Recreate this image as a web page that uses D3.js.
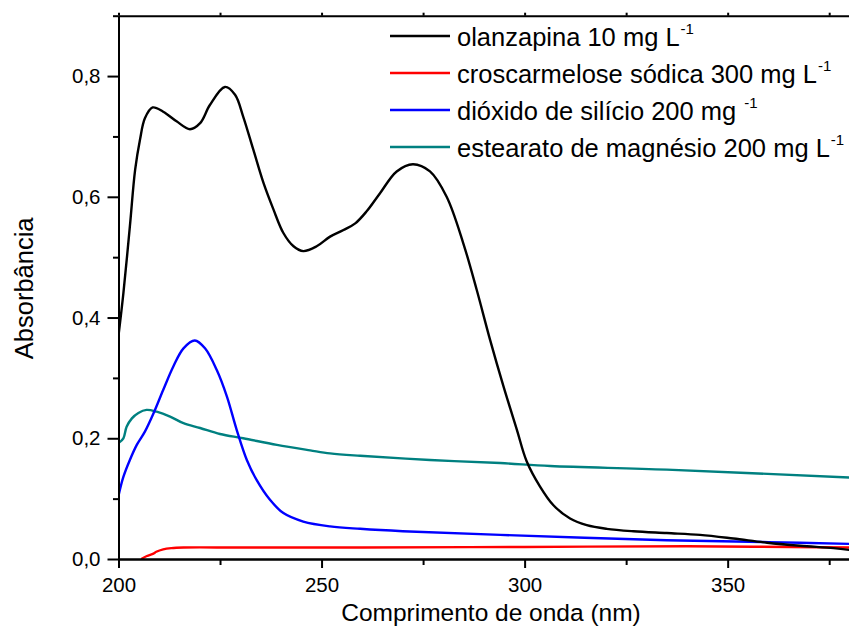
<!DOCTYPE html>
<html>
<head>
<meta charset="utf-8">
<script src="https://cdn.jsdelivr.net/npm/d3@7"></script>
<style>
  html, body { margin: 0; padding: 0; background: #fff; }
  svg { display: block; font-family: "Liberation Sans", Arial, sans-serif; }
</style>
</head>
<body>
<svg id="chart" width="849" height="638"></svg>
<script>
// UV spectra: wavelength (nm) and absorbance for each sample
const olanzapinaWl = [200, 201.2, 202.8, 204.1, 205.3, 206.5, 208.4, 211.0, 214.3, 217.6, 220.1, 222.5, 226.2, 228.7, 230.7, 233.2, 235.7, 238.1, 240.6, 243.1, 245.5, 248.8, 252.1, 255.4, 258.3, 261.1, 264.4, 268.5, 272.5, 276.7, 280.8, 284.9, 288.2, 291.5, 294.8, 298.1, 300.5, 303.8, 307.1, 311.2, 315.3, 320.2, 326.8, 335, 343.2, 351.4, 359.7, 367.9, 376.1, 380];
const olanzapinaAbs = [0.37, 0.44, 0.551, 0.645, 0.695, 0.730, 0.748, 0.741, 0.725, 0.712, 0.722, 0.752, 0.782, 0.769, 0.733, 0.678, 0.623, 0.580, 0.540, 0.518, 0.510, 0.518, 0.534, 0.545, 0.556, 0.576, 0.606, 0.642, 0.654, 0.642, 0.600, 0.523, 0.446, 0.363, 0.286, 0.214, 0.162, 0.120, 0.089, 0.067, 0.056, 0.050, 0.046, 0.043, 0.040, 0.034, 0.027, 0.022, 0.018, 0.015];

const croscarmeloseWl = [205.6, 207, 208.6, 209.3, 211, 213, 216, 230, 260, 300, 340, 380];
const croscarmeloseAbs = [0, 0.005, 0.009, 0.012, 0.016, 0.018, 0.019, 0.019, 0.019, 0.020, 0.021, 0.019];

const dioxidoWl = [200, 201.2, 202.8, 204.5, 206.5, 208.6, 211.0, 213.5, 216.0, 218.8, 221.3, 224.2, 226.7, 229.1, 231.6, 234.0, 237.3, 240.6, 245.5, 252.1, 259.5, 270, 294, 335, 360, 380];
const dioxidoAbs = [0.105, 0.136, 0.164, 0.189, 0.211, 0.241, 0.280, 0.319, 0.349, 0.362, 0.349, 0.313, 0.269, 0.214, 0.164, 0.131, 0.098, 0.076, 0.062, 0.054, 0.050, 0.046, 0.040, 0.031, 0.028, 0.025];

const estearatoWl = [200, 201.2, 202, 203.3, 204.9, 206.9, 209.4, 212.7, 216, 220.1, 225, 230.7, 239, 247.2, 252.1, 259.5, 276.7, 294, 306.3, 335, 380];
const estearatoAbs = [0.192, 0.200, 0.219, 0.233, 0.242, 0.247, 0.244, 0.236, 0.225, 0.217, 0.207, 0.200, 0.189, 0.180, 0.175, 0.171, 0.164, 0.159, 0.154, 0.148, 0.135];

const xMajorTicks = [200, 250, 300, 350];
const xMinorTicks = [225, 275, 325, 375];
const yMajorTicks = [0, 0.2, 0.4, 0.6, 0.8];
const yMinorTicks = [0.1, 0.3, 0.5, 0.7, 0.9];

const seriesNames = ["olanzapina 10 mg L", "croscarmelose sódica 300 mg L", "dióxido de silício 200 mg ", "estearato de magnésio 200 mg L"];
const seriesSup = ["-1", "-1", "-1", "-1"];
const seriesColors = ["#000000", "#ff0000", "#0000ff", "#008080"];

const series = [
  [olanzapinaWl, olanzapinaAbs],
  [croscarmeloseWl, croscarmeloseAbs],
  [dioxidoWl, dioxidoAbs],
  [estearatoWl, estearatoAbs]
].map(([wl, ab], i) => ({
  name: seriesNames[i], sup: seriesSup[i], color: seriesColors[i],
  points: wl.map((w, j) => [w, ab[j]])
}));

const svg = d3.select("#chart");
const plotLeft = 118.5, plotRight = 849.5, plotTop = 15.7, plotBottom = 559;

const x = d3.scaleLinear().domain([200, 380]).range([plotLeft, plotRight]);
const y = d3.scaleLinear().domain([0, 0.9]).range([plotBottom, plotTop]);

const fmt = d => d3.format(".1f")(d).replace(".", ",");

// clip curves to the plotting frame
svg.append("defs").append("clipPath").attr("id", "plotClip")
  .append("rect").attr("x", plotLeft).attr("y", plotTop)
  .attr("width", plotRight - plotLeft).attr("height", plotBottom - plotTop);

const line = d3.line()
  .x(d => x(d[0])).y(d => y(d[1]))
  .curve(d3.curveCatmullRom.alpha(0.5));

const curves = svg.append("g").attr("clip-path", "url(#plotClip)");
// draw in reverse so the olanzapina trace sits on top
series.slice().reverse().forEach(s => {
  curves.append("path")
    .datum(s.points)
    .attr("d", line)
    .attr("fill", "none")
    .attr("stroke", s.color)
    .attr("stroke-width", 2.4)
    .attr("stroke-linejoin", "round");
});

// axes
const axisStyle = g => {
  g.select(".domain").attr("stroke", "#000").attr("stroke-width", 2);
  g.selectAll(".tick line").attr("stroke", "#000").attr("stroke-width", 2);
  g.selectAll("text").attr("font-family", "'Liberation Sans', Arial, sans-serif").attr("fill", "#000");
};

// bottom
svg.append("g").attr("transform", `translate(0,${plotBottom})`)
  .call(d3.axisBottom(x).tickValues(xMinorTicks).tickSize(6).tickSizeOuter(0).tickFormat(""))
  .call(axisStyle);
svg.append("g").attr("transform", `translate(0,${plotBottom})`)
  .call(d3.axisBottom(x).tickValues(xMajorTicks).tickSize(9).tickSizeOuter(0).tickPadding(8).tickFormat(d3.format("d")))
  .call(axisStyle)
  .call(g => g.selectAll("text").attr("font-size", 20.5).attr("dy", null).attr("y", 33));

// top
svg.append("g").attr("transform", `translate(0,${plotTop})`)
  .call(d3.axisTop(x).tickValues(xMajorTicks.concat(xMinorTicks)).tickSize(3).tickSizeOuter(0).tickFormat(""))
  .call(axisStyle);

// left
svg.append("g").attr("transform", `translate(${plotLeft},0)`)
  .call(d3.axisLeft(y).tickValues(yMinorTicks).tickSize(5.5).tickSizeOuter(0).tickFormat(""))
  .call(axisStyle);
svg.append("g").attr("transform", `translate(${plotLeft},0)`)
  .call(d3.axisLeft(y).tickValues(yMajorTicks).tickSize(11).tickSizeOuter(0).tickPadding(7).tickFormat(fmt))
  .call(axisStyle)
  .call(g => g.selectAll("text").attr("font-size", 20.5));

// axis titles
svg.append("text")
  .attr("x", 491).attr("y", 621)
  .attr("text-anchor", "middle")
  .attr("font-size", 24.5)
  .text("Comprimento de onda (nm)");

svg.append("text")
  .attr("transform", `translate(33,${(plotTop + plotBottom) / 2 + 1}) rotate(-90)`)
  .attr("text-anchor", "middle")
  .attr("font-size", 25.5)
  .text("Absorbância");

// legend
const legend = svg.append("g");
const rowY = [36, 73, 110, 147];
series.forEach((s, i) => {
  const gy = rowY[i];
  legend.append("line")
    .attr("x1", 390).attr("x2", 450).attr("y1", gy).attr("y2", gy)
    .attr("stroke", s.color).attr("stroke-width", 2.4);
  const t = legend.append("text")
    .attr("x", 457).attr("y", gy + 10)
    .attr("font-size", 25.5);
  t.append("tspan").text(s.name);
  t.append("tspan").attr("font-size", 15).attr("dx", 1).attr("dy", -12).text(s.sup);
});
</script>
</body>
</html>
